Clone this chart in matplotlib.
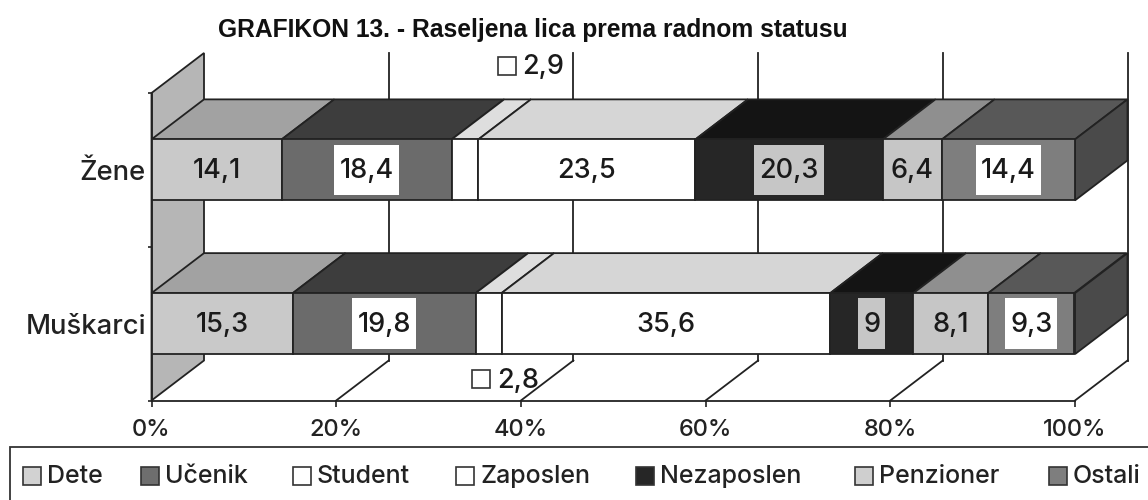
import matplotlib
matplotlib.use("Agg")
import matplotlib.pyplot as plt
from matplotlib.patches import Polygon, Rectangle

title = "GRAFIKON 13. - Raseljena lica prema radnom statusu"
groups = ["Muškarci", "Žene"]
series = ["Dete", "Učenik", "Student", "Zaposlen", "Nezaposlen", "Penzioner", "Ostali"]
muskarci = [15.3, 19.8, 2.8, 35.6, 9, 8.1, 9.3]
zene = [14.1, 18.4, 2.9, 23.5, 20.3, 6.4, 14.4]
xticks = [0, 20, 40, 60, 80, 100]

front = ["#c9c9c9", "#6b6b6b", "#ffffff", "#ffffff", "#262626", "#c6c6c6", "#7e7e7e"]
top = ["#a2a2a2", "#3d3d3d", "#dedede", "#d6d6d6", "#141414", "#8f8f8f", "#585858"]
boxes = ["#c9c9c9", "#ffffff", None, "#ffffff", "#c6c6c6", "#c6c6c6", "#ffffff"]
legend_fill = ["#d2d2d2", "#6e6e6e", "#ffffff", "#ffffff", "#262626", "#cfcfcf", "#7e7e7e"]
legend_x = [23, 141, 293, 456, 636, 855, 1049]

W, H = 1148, 500
INK = "#222222"
FONT = "Inter"
WEIGHT = "medium"
plt.rcParams["font.family"] = ["Liberation Sans", "DejaVu Sans"]

fig = plt.figure(figsize=(W / 100, H / 100), dpi=100)
L, R, T, B = 151.5, 1075, 93, 400.5
ax = fig.add_axes([L / W, 1 - B / H, (R - L) / W, (B - T) / H])
ax.set_xlim(0, 100)
ax.set_ylim(-0.5, 1.5)
ax.patch.set_visible(False)

DX = 52.5 / ((R - L) / 100)
DY = 40 / ((B - T) / 2)
BAR = 61 / ((B - T) / 2)


def poly(pts, fc, z):
    ax.add_patch(Polygon(pts, closed=True, fc=fc, ec=INK, lw=1.3, zorder=z, clip_on=False, joinstyle="miter"))


# wall
poly([(0, -0.5), (DX, -0.5 + DY), (DX, 1.5 + DY), (0, 1.5)], "#b6b6b6", 1)
# back gridlines and floor diagonals
for t in xticks[1:]:
    ax.plot([t + DX, t + DX], [-0.5 + DY, 1.5 + DY], color=INK, lw=1.3, zorder=1, clip_on=False)
    ax.plot([t, t + DX], [-0.5, -0.5 + DY], color=INK, lw=1.3, zorder=1, clip_on=False)

for yi, values in enumerate([muskarci, zene]):
    y0, y1 = yi - BAR / 2, yi + BAR / 2
    left = 0
    for i, v in enumerate(values):
        right = left + v
        poly([(left, y1), (left + DX, y1 + DY), (right + DX, y1 + DY), (right, y1)], top[i], 3)
        poly([(left, y0), (right, y0), (right, y1), (left, y1)], front[i], 4)
        left = right
    poly([(100, y0), (100 + DX, y0 + DY), (100 + DX, y1 + DY), (100, y1)], "#4a4a4a", 3)

fig.canvas.draw()
renderer = fig.canvas.get_renderer()
for yi, values in enumerate([muskarci, zene]):
    left = 0
    for i, v in enumerate(values):
        if boxes[i] is not None:
            s = f"{v:g}".replace(".", ",")
            t = ax.text(left + v / 2, yi - 0.056, s, ha="center", va="baseline", fontsize=19.5, color="#1a1a1a",
                        family=[FONT], fontweight=WEIGHT, zorder=6, clip_on=False)
            e = t.get_window_extent(renderer).transformed(ax.transData.inverted())
            pad = 0.55
            ax.add_patch(Rectangle((e.x0 - pad, yi - 0.165), e.width + 2 * pad, 0.33, fc=boxes[i], ec="none", zorder=5))
        left += v

# axes furniture
for s in ["top", "right"]:
    ax.spines[s].set_visible(False)
for s in ["left", "bottom"]:
    ax.spines[s].set_color(INK)
    ax.spines[s].set_linewidth(1.3)
    ax.spines[s].set_zorder(2)
ax.set_xticks(xticks)
ax.set_xticklabels([f"{t}%" for t in xticks], fontsize=17, color="#222222", family=[FONT], fontweight=WEIGHT)
ax.tick_params(axis="x", length=4, width=1.2, color=INK, pad=9)
ax.set_yticks([0, 1])
ax.set_yticklabels(groups, fontsize=19.7, color="#222222", family=[FONT], fontweight=WEIGHT)
ax.tick_params(axis="y", length=0, pad=4)
ax.set_yticks([-0.5, 0.5, 1.5], minor=True)
ax.tick_params(axis="y", which="minor", length=3, width=1.2, color=INK)


def fx(x):
    return x / W


def fy(y):
    return 1 - y / H


def swatch(x, ypx, fc):
    fig.add_artist(Rectangle((fx(x), fy(ypx + 17.5)), 18 / W, 17.5 / H, transform=fig.transFigure,
                             fc=fc, ec="#333333", lw=1.2))


fig.text(fx(532.5), fy(30.5), title, ha="center", va="center", fontsize=17.7, fontweight="bold", color="#111111")

# small-value callouts
swatch(498, 57, "#ffffff")
fig.text(fx(522), fy(74), f"{zene[2]:g}".replace(".", ","), ha="left", va="baseline", fontsize=19.5, family=[FONT], fontweight=WEIGHT, color="#1a1a1a", zorder=9)
swatch(472, 370, "#ffffff")
fig.text(fx(497), fy(388), f"{muskarci[2]:g}".replace(".", ","), ha="left", va="baseline", fontsize=19.5, family=[FONT], fontweight=WEIGHT, color="#1a1a1a", zorder=9)

# legend box, open past the picture edge
fig.add_artist(Rectangle((fx(10), fy(520)), 1200 / W, 73 / H, transform=fig.transFigure, fc="none", ec="#333333", lw=1.3))
for name, x, fc in zip(series, legend_x, legend_fill):
    swatch(x, 467, fc)
    fig.text(fx(x + 24), fy(483), name, ha="left", va="baseline", fontsize=18, family=[FONT], fontweight=WEIGHT, color="#222222")

fig.savefig("out.png", dpi=100)
